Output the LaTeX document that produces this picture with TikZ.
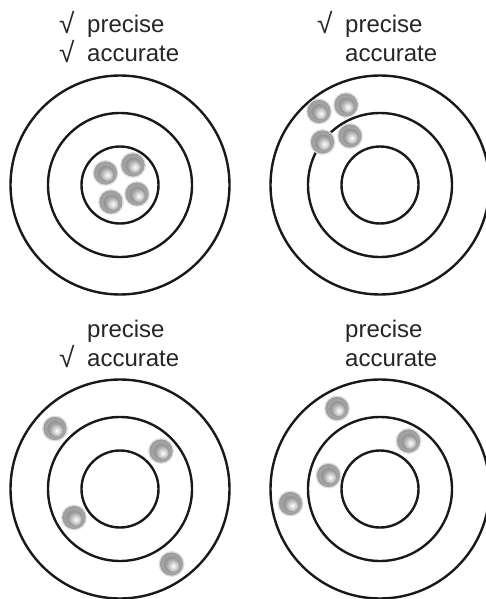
\documentclass[tikz,border=0pt]{standalone}
\usepackage{fontspec}
\setmainfont{Liberation Sans}
\begin{document}
\begin{tikzpicture}[x=1pt,y=-1pt,
  ring/.style={draw=black!90, line width=2.4pt},
  lbl/.style={anchor=base west, inner sep=0pt, text=black!85, font=\fontsize{24}{28}\selectfont},
  chk/.style={anchor=base west, inner sep=0pt, text=black!85, font=\fontsize{28}{30}\selectfont},
  ball/.pic={
    \fill[gray!25] (0,0) circle (13pt);
    \shade[inner color=gray!50, outer color=gray!78] (0,0) circle (11.6pt);
    \shade[inner color=gray!45, outer color=gray!85] (0.5,0.5) circle (8pt);
    \shade[inner color=white, outer color=gray!60] (1.8,2) circle (5.8pt);
  }]
\useasboundingbox (0,0) rectangle (485,599);
\fill[white] (0,0) rectangle (485,599);

% targets
\foreach \cx/\cy/\n in {120/185/a,380/185/b,120/489/c,380/489/d}{
  \draw[ring] (\cx,\cy) circle (109.5pt);
  \draw[ring] (\cx,\cy) circle (72pt);
  \draw[ring] (\cx,\cy) circle (38.5pt);
}

% labels
\node[chk] (ca1) at (59,34) {√};
\node[lbl] (ta1) at (87,33) {precise};
\node[chk] (ca2) at (59,63) {√};
\node[lbl] (ta2) at (87,62) {accurate};

\node[chk] (cb1) at (317,34) {√};
\node[lbl] (tb1) at (345,33) {precise};
\node[lbl] (tb2) at (345,62) {accurate};

\node[lbl] (tc1) at (87,337) {precise};
\node[chk] (cc2) at (59,367) {√};
\node[lbl] (tc2) at (87,366) {accurate};

\node[lbl] (td1) at (345,337) {precise};
\node[lbl] (td2) at (345,366) {accurate};

% balls
\foreach \x/\y in {105.5/173,133/165,111/202,137/194,
                   319/111.5,346/105,322.5/142,350/136,
                   55/428.5,161/451,74/517.5,171.5/564,
                   337/408.5,408.5/441,328.5/475.5,290.5/503.5}{
  \pic at (\x,\y) {ball};
}
\end{tikzpicture}
\end{document}
